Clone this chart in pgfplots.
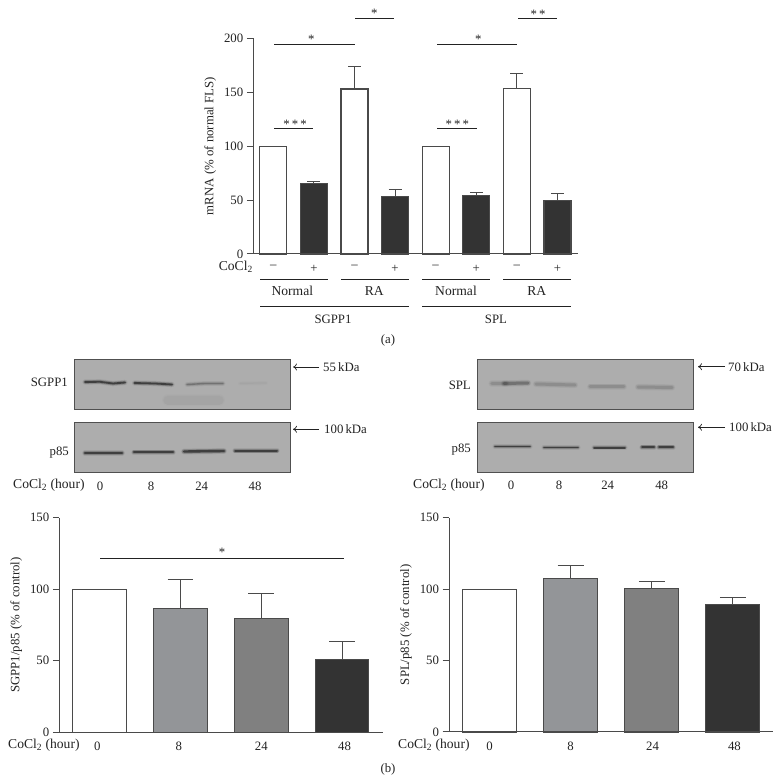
\documentclass[border=0pt]{standalone}
\usepackage{fontspec}
\setmainfont{Liberation Serif}
\usepackage{pgfplots}
\pgfplotsset{compat=1.18}
\usetikzlibrary{arrows.meta}
\definecolor{ink}{HTML}{222222}
\definecolor{edge}{HTML}{4A4A4A}
\definecolor{gA}{HTML}{939598}
\definecolor{gB}{HTML}{808080}
\definecolor{gC}{HTML}{333333}
\definecolor{blotbg}{HTML}{ADADAD}
\definecolor{blotedge}{HTML}{505050}
\newcommand{\fsz}{\fontsize{12.8}{14}\selectfont}
\newcommand{\csz}{\fontsize{13.6}{14}\selectfont}
\pgfplotsset{
  panel/.style={
    scale only axis, clip=false, axis lines=left, axis line style={-, draw=edge, line width=1pt},
    tick style={draw=edge, line width=1pt}, tick align=outside, major tick length=6.5pt,
    x tick style={draw=none}, xtick pos=bottom, ytick pos=left, ymin=0,
    /pgf/number format/assume math mode=true,
    tick label style={font=\fsz, text=ink}, label style={font=\fsz, text=ink},
  },
  errs/.style 2 args={
    ybar, bar shift=0pt, bar width=#1, draw=edge, line width=1.1pt, fill=#2,
    error bars/.cd, y dir=plus, y explicit,
    error bar style={draw=edge, line width=1pt},
    error mark options={draw=edge, rotate=90, mark size=#1*0.24, line width=1pt},
  },
}
% one western blot band, as stacked strokes for the soft edge
\newcommand{\bandx}[5]{%
  \addplot[no marks, black, line cap=round, opacity=#2, line width=#1pt+3.4pt] coordinates {#5};
  \addplot[no marks, black, line cap=round, opacity=#3, line width=#1pt+1.8pt] coordinates {#5};
  \addplot[no marks, black, line cap=round, opacity=#4, line width=#1pt] coordinates {#5};
}
\newcommand{\bandS}[2]{\bandx{#1}{.08}{.2}{.5}{#2}}
\newcommand{\bandM}[2]{\bandx{#1}{.05}{.1}{.22}{#2}}
\newcommand{\bandW}[2]{\bandx{#1}{.03}{.05}{.1}{#2}}
\newcommand{\bandF}[2]{\bandx{#1}{.008}{.012}{.018}{#2}}
\begin{document}
\begin{tikzpicture}
\useasboundingbox (0pt,0pt) rectangle (782pt,783pt);

% (a) mRNA
\begin{axis}[panel, at={(253.3pt,529pt)}, anchor=south west,
  width=324.4pt, height=215.7pt,
  xmin=-0.4926, xmax=7.498, ymax=200,
  ytick={0,50,100,150,200},
  xtick={0,...,7}, xticklabels={–,+,–,+,–,+,–,+},
  xticklabel style={yshift=-1.5pt},
  ylabel={mRNA (\% of normal FLS)}, ylabel shift=1pt]
\addplot[errs={27pt}{white}] coordinates {(0,100) (4,100)};
\addplot[errs={27pt}{white}] coordinates {(2,153) +- (0,21) (6,153.5) +- (0,14.2)};
\addplot[errs={27pt}{gC}] coordinates {(1,65.2) +- (0,2.2) (3,53.5) +- (0,6.4) (5,54) +- (0,2.9) (7,49.5) +- (0,6.8)};
\end{axis}

% (b) SGPP1/p85
\begin{axis}[panel, at={(59.3pt,50.7pt)}, anchor=south west,
  width=324pt, height=214.6pt,
  xmin=-0.5, xmax=3.51, ymax=150,
  ytick={0,50,100,150},
  xtick={-0.03,0.98,2,3.03}, xticklabels={0,8,24,48},
  ylabel={SGPP1/p85 (\% of control)}, ylabel shift=1pt]
\addplot[errs={53.7pt}{white}] coordinates {(0,100)};
\addplot[errs={53.7pt}{gA}] coordinates {(1,86.4) +- (0,20.1)};
\addplot[errs={53.7pt}{gB}] coordinates {(2,79.4) +- (0,17.7)};
\addplot[errs={53.7pt}{gC}] coordinates {(3,50.8) +- (0,13)};
\end{axis}

% (b) SPL/p85
\begin{axis}[panel, at={(449pt,51pt)}, anchor=south west,
  width=323.7pt, height=214.3pt,
  xmin=-0.5, xmax=3.492, ymax=150,
  ytick={0,50,100,150},
  xtick={0,1,2.01,3.02}, xticklabels={0,8,24,48},
  ylabel={SPL/p85 (\% of control)}, ylabel shift=1pt]
\addplot[errs={54pt}{white}] coordinates {(0,100)};
\addplot[errs={54pt}{gA}] coordinates {(1,107.6) +- (0,9.1)};
\addplot[errs={54pt}{gB}] coordinates {(2,100.6) +- (0,4.9)};
\addplot[errs={54pt}{gC}] coordinates {(3,89.2) +- (0,5.1)};
\end{axis}

% everything else in picture pixels
\begin{axis}[at={(0pt,0pt)}, anchor=south west, scale only axis, width=782pt, height=783pt,
  xmin=0, xmax=782, ymin=0, ymax=783, y dir=reverse, hide axis, clip=false]
\tikzset{
  t/.style={font=\fsz, text=ink, inner sep=0pt},
  c/.style={font=\csz, text=ink, inner sep=0pt},
  rule/.style={draw=ink, line width=0.9pt},
  blot/.style={fill=blotbg, draw=blotedge, line width=1pt},
  arr/.style={draw=ink, line width=0.7pt, -{To[length=4pt,width=7pt]}},
}
% panel (a) annotation
\node[c, anchor=east] at (253,267) {CoCl\textsubscript{2}};
\draw[rule] (260,279.3) -- (327.7,279.3);
\draw[rule] (341,279.3) -- (408.7,279.3);
\draw[rule] (422.3,279.3) -- (490,279.3);
\draw[rule] (503.3,279.3) -- (571,279.3);
\draw[rule] (260,306) -- (408.7,306);
\draw[rule] (422.3,306) -- (571,306);
\node[c] at (292.3,291) {Normal};
\node[c] at (374.3,291) {RA};
\node[c] at (456,291) {Normal};
\node[c] at (536.7,291) {RA};
\node[t] at (333,319) {SGPP1};
\node[t] at (496,319) {SPL};
\node[t] at (388,340.7) {(a)};
\draw[rule] (274,44) -- (355.3,44);
\draw[rule] (355.3,18.3) -- (394,18.3);
\draw[rule] (274,128.3) -- (313.3,128.3);
\draw[rule] (437.3,44) -- (517.3,44);
\draw[rule] (518,18.3) -- (556.7,18.3);
\draw[rule] (437.3,128.3) -- (476.7,128.3);
\node[t] at (311.3,39.5) {*};
\node[t] at (374.3,13) {*};
\node[t] at (295,124) {*\,*\,*};
\node[t] at (478.3,39.5) {*};
\node[t] at (538,14) {*\,*};
\node[t] at (457.3,124) {*\,*\,*};

% blots
\draw[blot] (74,359) rectangle (290,409);
\draw[blot] (74,422.7) rectangle (290,472.7);
\draw[blot] (477.7,359.3) rectangle (693.7,409.3);
\draw[blot] (477,422) rectangle (693.3,472);

\bandS{1.8}{(85,382) (100,381.8) (113,383.5) (125,382.5)}
\bandS{1.8}{(134.5,383) (155,383.5) (172,384.5)}
\bandM{1.4}{(187,384.5) (205,383.5) (223,383.5)}
\bandF{1}{(240,383.5) (266,383)}
\bandF{9}{(168,400) (219,400)}
\bandS{2.2}{(85,453) (122,453)}
\bandS{2.2}{(134,452.3) (173,452.3)}
\bandS{2.4}{(184,451.5) (224,451)}
\bandS{2}{(235,450.7) (277,450.7)}

\bandW{3.5}{(492,383.5) (506,383.5)}
\bandM{3}{(504,383.5) (528,383)}
\bandW{3}{(536,384) (575,385)}
\bandW{2.6}{(590,386.5) (624,386.5)}
\bandW{3}{(638,387) (672,387.5)}
\bandS{1.6}{(495,446.3) (530,446.3)}
\bandS{1.6}{(544,447.3) (578,447.3)}
\bandS{1.6}{(594,447.7) (625,447.7)}
\bandS{2}{(642,447.3) (654,447.3)}
\bandS{2}{(659,447.3) (673,447.3)}

% blot labels
\node[t, anchor=east] at (68,382) {SGPP1};
\node[t, anchor=east] at (69,453) {p85};
\node[t, anchor=east] at (471,385.7) {SPL};
\node[t, anchor=east] at (471,450) {p85};
\draw[arr] (319,367) -- (293,367);
\node[t, anchor=west] at (323,367) {55\,kDa};
\draw[arr] (319,429.3) -- (293,429.3);
\node[t, anchor=west] at (324,429.3) {100\,kDa};
\draw[arr] (725,366.7) -- (698,366.7);
\node[t, anchor=west] at (728,366.7) {70\,kDa};
\draw[arr] (725,427.3) -- (698,427.3);
\node[t, anchor=west] at (729,427.3) {100\,kDa};

\node[c, anchor=west] at (13,485) {CoCl\textsubscript{2} (hour)};
\node[t] at (100,486) {0};
\node[t] at (151,486) {8};
\node[t] at (201.7,486) {24};
\node[t] at (255,486) {48};
\node[c, anchor=west] at (413,485) {CoCl\textsubscript{2} (hour)};
\node[t] at (511,485) {0};
\node[t] at (559,485) {8};
\node[t] at (607.7,485) {24};
\node[t] at (661.7,485) {48};

% panel (b) annotation
\draw[rule] (100,558.3) -- (344,558.3);
\node[t] at (222,552) {*};
\node[c, anchor=west] at (8,745) {CoCl\textsubscript{2} (hour)};
\node[c, anchor=west] at (398,745) {CoCl\textsubscript{2} (hour)};
\node[t] at (388,769) {(b)};
\end{axis}
\end{tikzpicture}
\end{document}
